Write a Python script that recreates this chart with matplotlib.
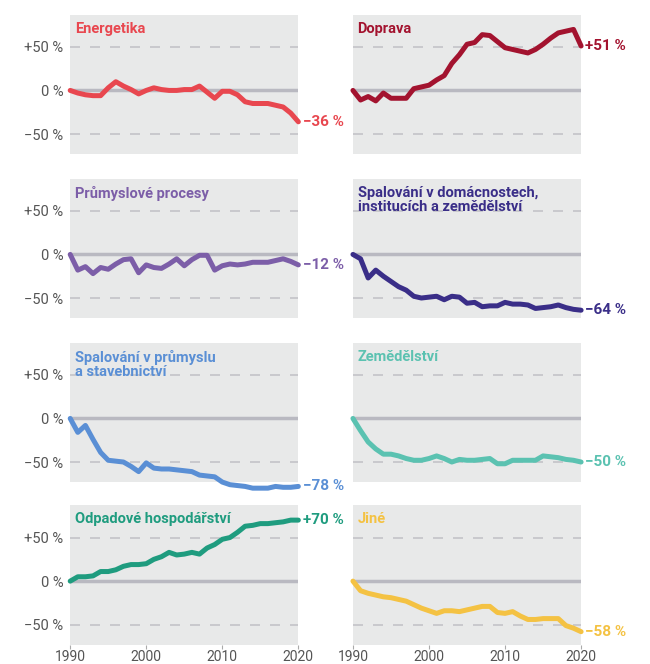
import matplotlib.pyplot as plt

plt.rcParams['font.family'] = ['Roboto', 'DejaVu Sans']

years = list(range(1990, 2021))

energetika = [0, -3, -5, -6, -6, 3, 10, 5, 1, -4, 0, 3, 1, 0, 0, 1, 1, 5, -2, -9,
              -1, -1, -5, -13, -15, -15, -15, -17, -19, -26, -36]
doprava = [0, -11, -7, -12, -3, -9, -9, -9, 2, 4, 6, 12, 17, 31, 41, 53, 55, 64, 63, 56,
           49, 47, 45, 43, 47, 53, 60, 66, 68, 70, 51]
prumysl_procesy = [0, -18, -14, -22, -15, -17, -11, -6, -5, -21, -12, -15, -16, -11, -5, -13,
                   -6, -1, -1, -18, -13, -11, -12, -11, -9, -9, -9, -7, -5, -8, -12]
domacnosti = [0, -5, -27, -18, -25, -31, -37, -41, -48, -50, -49, -48, -52, -48, -49, -56,
              -55, -60, -59, -59, -55, -57, -57, -58, -62, -61, -60, -58, -61, -63, -64]
prumysl_spal = [0, -16, -8, -24, -39, -48, -49, -50, -55, -61, -51, -57, -58, -58, -59, -60,
                -61, -65, -66, -67, -73, -76, -77, -78, -80, -80, -80, -78, -79, -79, -78]
zemedelstvi = [0, -14, -27, -35, -41, -41, -43, -46, -48, -48, -46, -43, -46, -50, -47, -48,
               -48, -47, -46, -52, -52, -48, -48, -48, -48, -43, -44, -45, -47, -48, -50]
odpady = [0, 5, 5, 6, 11, 11, 13, 17, 19, 19, 20, 25, 28, 33, 30, 31, 33, 31, 38, 42,
          48, 50, 56, 63, 64, 66, 66, 67, 68, 70, 70]
jine = [0, -11, -14, -16, -18, -19, -21, -23, -27, -31, -34, -37, -34, -34, -35, -33,
        -31, -29, -29, -36, -37, -35, -40, -44, -44, -43, -43, -43, -51, -54, -58]

titles = ["Energetika", "Doprava", "Průmyslové procesy",
          "Spalování v domácnostech,\ninstitucích a zemědělství",
          "Spalování v průmyslu\na stavebnictví", "Zemědělství",
          "Odpadové hospodářství", "Jiné"]
end_labels = ["−36 %", "+51 %", "−12 %", "−64 %", "−78 %", "−50 %", "+70 %", "−58 %"]
series = [energetika, doprava, prumysl_procesy, domacnosti,
          prumysl_spal, zemedelstvi, odpady, jine]
colors = ["#e8474f", "#a3132f", "#7c5ea8", "#3a2e88",
          "#5a8fd5", "#5bc2b1", "#1f9c7f", "#f4c243"]

fig = plt.figure(figsize=(6.5, 6.64), dpi=100)

lefts = [0.108, 0.543]
bottoms = [0.768, 0.521, 0.274, 0.029]
w, h = 0.351, 0.210

for i in range(8):
    r, c = divmod(i, 2)
    ax = fig.add_axes([lefts[c], bottoms[r], w, h])
    ax.set_facecolor("#e8e9e9")
    for s in ax.spines.values():
        s.set_visible(False)
    ax.set_xlim(1990, 2020)
    ax.set_ylim(-73, 87)
    ax.axhline(0, color="#b9b9c1", lw=2.5, zorder=1)
    for yv in (50, -50):
        ax.axhline(yv, color="#c3c3c8", lw=1.2, ls=(0, (6, 6)), zorder=1)
    col = colors[i]
    ax.plot(years, series[i], color=col, lw=3.6, solid_joinstyle="round",
            solid_capstyle="round", clip_on=False, zorder=3)
    ax.text(0.02, 0.95, titles[i], transform=ax.transAxes, ha="left", va="top",
            color=col, fontsize=10.5, fontweight="bold", linespacing=1.05)
    ax.annotate(end_labels[i], (years[-1], series[i][-1]), xytext=(3, 0),
                textcoords="offset points", ha="left", va="center",
                color=col, fontsize=11, fontweight="bold", annotation_clip=False)
    ax.set_yticks([-50, 0, 50])
    if c == 0:
        ax.set_yticklabels(["−50 %", "0 %", "+50 %"])
    else:
        ax.set_yticklabels([])
    ax.tick_params(axis="y", length=0, pad=5, labelsize=10.5, labelcolor="#555555")
    ax.set_xticks([1990, 2000, 2010, 2020])
    if r == 3:
        ax.tick_params(axis="x", length=3, color="#aaaaaa", labelsize=10,
                       labelcolor="#555555", pad=0.5)
    else:
        ax.tick_params(axis="x", length=0, labelbottom=False)

fig.savefig("out.png", dpi=100)
